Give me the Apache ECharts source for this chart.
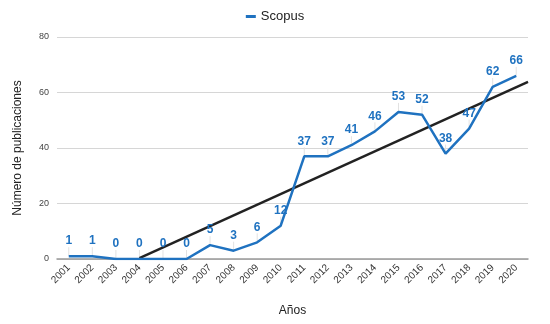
<!DOCTYPE html>
<html>
<head>
<meta charset="utf-8">
<script src="https://cdn.jsdelivr.net/npm/echarts@6/dist/echarts.min.js"></script>
<style>
  html, body { margin: 0; padding: 0; background: #fff; }
  #chart { width: 550px; height: 324px; }
</style>
</head>
<body>
<div id="chart"></div>
<script>
const years = ['2001', '2002', '2003', '2004', '2005', '2006', '2007', '2008', '2009', '2010',
    '2011', '2012', '2013', '2014', '2015', '2016', '2017', '2018', '2019', '2020'];
const scopus = [1, 1, 0, 0, 0, 0, 5, 3, 6, 12, 37, 37, 41, 46, 53, 52, 38, 47, 62, 66];
// trend line: [category position, value]
const trendX = [3, 19.5];
const trendY = [0.3, 63.8];
const yTicks = [0, 20, 40, 60, 80];

const blue = '#1f72c0';
const font = '"Liberation Sans", Arial, sans-serif';

const chart = echarts.init(document.getElementById('chart'));
chart.setOption({
    animation: false,
    textStyle: { fontFamily: font },
    legend: {
        top: 5,
        left: 'center',
        data: [{ name: 'Scopus', icon: 'rect' }],
        itemWidth: 10,
        itemHeight: 3,
        itemGap: 6,
        textStyle: { fontSize: 13, color: '#222', fontFamily: font }
    },
    grid: { left: 57, right: 22, top: 37, bottom: 65 },
    xAxis: [
        {
            type: 'category',
            data: years,
            boundaryGap: true,
            name: 'Años',
            nameLocation: 'middle',
            nameGap: 46,
            nameTextStyle: { fontSize: 12, color: '#222', fontFamily: font },
            axisLine: { lineStyle: { color: '#999', width: 1.5 } },
            axisTick: { show: false },
            axisLabel: { rotate: 45, fontSize: 10, color: '#333', margin: 7, fontFamily: font }
        },
        {
            type: 'value',
            min: -0.5,
            max: 19.5,
            show: false
        }
    ],
    yAxis: {
        type: 'value',
        min: yTicks[0],
        max: yTicks[yTicks.length - 1],
        interval: 20,
        name: 'Número de publicaciones',
        nameLocation: 'middle',
        nameGap: 33,
        nameTextStyle: { fontSize: 12, color: '#222', fontFamily: font },
        axisLine: { show: false },
        axisTick: { show: false },
        axisLabel: { fontSize: 9, color: '#444', margin: 8, fontFamily: font },
        splitLine: { lineStyle: { color: '#d6d6d6' } }
    },
    series: [
        {
            // faint leader lines under the data labels
            type: 'custom',
            data: scopus.map((v, i) => [i, v]),
            silent: true,
            z: 1,
            renderItem: (params, api) => {
                const p = api.coord([api.value(0), api.value(1)]);
                return {
                    type: 'line',
                    shape: { x1: p[0], y1: p[1], x2: p[0], y2: p[1] - 9 },
                    style: { stroke: '#e2e2e2', lineWidth: 1 }
                };
            }
        },
        {
            name: 'Scopus',
            type: 'line',
            data: scopus,
            symbol: 'circle',
            symbolSize: 0.1,
            showSymbol: true,
            color: blue,
            lineStyle: { width: 2.5, color: blue },
            label: {
                show: true,
                position: 'top',
                distance: 9,
                fontSize: 12,
                fontWeight: 'bold',
                color: blue,
                fontFamily: font
            },
            z: 3
        },
        {
            name: 'trend',
            type: 'line',
            xAxisIndex: 1,
            data: trendX.map((x, i) => [x, trendY[i]]),
            showSymbol: false,
            lineStyle: { width: 2.5, color: '#222' },
            silent: true,
            z: 2
        }
    ]
});
</script>
</body>
</html>
